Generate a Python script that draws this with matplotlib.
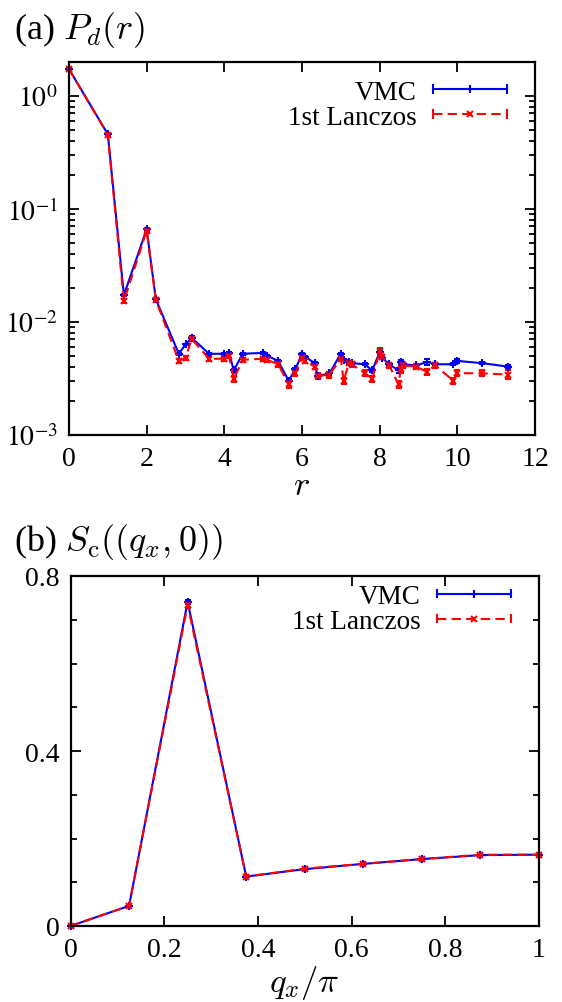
import numpy as np
import matplotlib
matplotlib.use("Agg")
import matplotlib.pyplot as plt
from matplotlib.lines import Line2D
from matplotlib.legend_handler import HandlerBase
from matplotlib.ticker import LogLocator, FuncFormatter, MultipleLocator, NullFormatter

# ---------------- data ----------------
# (a) P_d(r)
r_vals = [0, 1, 1.414, 2, 2.236, 2.828, 3, 3.162, 3.606, 4, 4.123, 4.243, 4.472, 5,
          5.099, 5.385, 5.657, 5.831, 6, 6.083, 6.325, 6.403, 6.708, 7, 7.071, 7.211,
          7.280, 7.616, 7.810, 8, 8.062, 8.246, 8.485, 8.544, 8.602, 8.944, 9.220,
          9.434, 9.899, 10, 10.630, 11.314]
pd_vmc = [1.72, 0.456, 0.0172, 0.066, 0.0158, 0.0052, 0.0063, 0.0072, 0.0052, 0.0052,
          0.0053, 0.0037, 0.0052, 0.0053, 0.0050, 0.0045, 0.0030, 0.0038, 0.0052, 0.0049,
          0.0043, 0.0033, 0.0035, 0.0052, 0.0046, 0.0044, 0.0043, 0.0042, 0.0037, 0.0054,
          0.0048, 0.0042, 0.0037, 0.0044, 0.0042, 0.0041, 0.0044, 0.0042, 0.0042, 0.0045,
          0.0043, 0.0040]
pd_vmc_err = [0.02, 0.005, 0.0004, 0.001, 0.0003, 0.0001, 0.0001, 0.0002, 0.0001, 0.0001,
              0.0001, 0.0001, 0.0001, 0.0001, 0.0001, 0.0001, 0.0001, 0.0001, 0.0001, 0.0001,
              0.0001, 0.0001, 0.0001, 0.0001, 0.0001, 0.0001, 0.0001, 0.0001, 0.0001, 0.0001,
              0.0001, 0.0001, 0.0002, 0.0002, 0.0001, 0.0001, 0.0003, 0.0001, 0.0001, 0.0002,
              0.0001, 0.0001]
pd_lan = [1.72, 0.452, 0.0152, 0.064, 0.0156, 0.0045, 0.0048, 0.0070, 0.0047, 0.0047,
          0.0050, 0.0031, 0.0046, 0.0047, 0.0046, 0.0042, 0.0028, 0.0035, 0.0048, 0.0045,
          0.0040, 0.0033, 0.0034, 0.0047, 0.0030, 0.0043, 0.0042, 0.0035, 0.0031, 0.0055,
          0.0049, 0.0041, 0.0028, 0.0038, 0.0041, 0.0040, 0.0036, 0.0041, 0.0030, 0.0035,
          0.0035, 0.0034]
pd_lan_err = [0.03, 0.008, 0.0006, 0.0015, 0.0005, 0.0002, 0.0002, 0.0003, 0.0002, 0.0002,
              0.0002, 0.0002, 0.0002, 0.0002, 0.0002, 0.0002, 0.0002, 0.0002, 0.0002, 0.0002,
              0.0002, 0.0002, 0.0002, 0.0002, 0.0002, 0.0002, 0.0002, 0.0002, 0.0002, 0.0003,
              0.0002, 0.0002, 0.0002, 0.0003, 0.0002, 0.0002, 0.0002, 0.0002, 0.0002, 0.0002,
              0.0002, 0.0003]

# (b) S_c((q_x,0))
qx = [0, 0.125, 0.25, 0.375, 0.5, 0.625, 0.75, 0.875, 1.0]
sc_vmc = [0.0, 0.046, 0.741, 0.113, 0.130, 0.142, 0.153, 0.162, 0.163]
sc_vmc_err = [0.001, 0.001, 0.004, 0.001, 0.001, 0.001, 0.001, 0.001, 0.001]
sc_lan = [0.0, 0.046, 0.734, 0.113, 0.131, 0.142, 0.153, 0.163, 0.163]
sc_lan_err = [0.002, 0.002, 0.006, 0.002, 0.002, 0.002, 0.002, 0.002, 0.002]

labels = ["VMC", "1st Lanczos"]

# ---------------- style ----------------
plt.rcParams["font.family"] = ["Liberation Serif", "DejaVu Serif"]
plt.rcParams["mathtext.fontset"] = "stix"
BLUE = "#0000ff"
RED = "#ff0000"
TICKFS = 20
LEGFS = 19.5
LABFS = 25
TITFS = 26


class GnuHandler(HandlerBase):
    """gnuplot-like legend sample: line with end caps and central marker."""
    def create_artists(self, legend, orig, xdescent, ydescent, width, height, fontsize, trans):
        y = height / 2.0 - ydescent
        x0, x1 = -xdescent, width - xdescent
        c = height * 0.2
        arts = []
        ln = Line2D([x0, x1], [y, y], color=orig.get_color(), lw=orig.get_linewidth(),
                    linestyle=orig.get_linestyle())
        if orig.get_linestyle() not in ("-", "solid"):
            ln.set_dashes((4.5, 2.5))
        arts.append(ln)
        for xx in (x0, x1):
            arts.append(Line2D([xx, xx], [y - c, y + c], color=orig.get_color(), lw=1.5))
        arts.append(Line2D([(x0 + x1) / 2], [y], color=orig.get_color(), marker=orig.get_marker(),
                           markersize=orig.get_markersize(), markeredgewidth=1.5, linestyle="none"))
        for a in arts:
            a.set_transform(trans)
        return arts


def draw_series(ax, x, y, e, color, marker, ms, dashed):
    cont = ax.errorbar(x, y, yerr=e, color=color, lw=1.5, marker=marker, ms=ms, mew=1.5,
                       capsize=2.5, capthick=1.3, elinewidth=1.3,
                       linestyle="--" if dashed else "-")
    line = cont.lines[0]
    if dashed:
        line.set_dashes((4.5, 2.5))
    for a in [cont.lines[0]] + list(cont.lines[1]) + list(cont.lines[2]):
        a.set_clip_on(False)
    return cont


def style_axes(ax):
    for s in ax.spines.values():
        s.set_linewidth(1.6)
    ax.tick_params(which="both", direction="in", top=True, right=True, width=1.3,
                   labelsize=TICKFS, pad=8)
    ax.tick_params(which="major", length=7)
    ax.tick_params(which="minor", length=4)


def add_legend(ax, dy_px):
    h1 = Line2D([], [], color=BLUE, lw=1.5, linestyle="-", marker="+", markersize=6)
    h2 = Line2D([], [], color=RED, lw=1.5, linestyle="--", marker="x", markersize=5)
    hpx = ax.get_position().height * 1003
    wpx = ax.get_position().width * 562
    ax.legend([h1, h2], labels, loc="upper right", frameon=False, markerfirst=False,
              fontsize=LEGFS, handlelength=2.75, handletextpad=0.6, labelspacing=0.0,
              borderpad=0.0, borderaxespad=0.0,
              bbox_to_anchor=(1 - 28 / wpx, 1 - dy_px / hpx),
              handler_map={h1: GnuHandler(), h2: GnuHandler()})


fig = plt.figure(figsize=(5.62, 10.03), dpi=100)

# ---------- panel (a) ----------
ax1 = fig.add_axes([69 / 562, 1 - 435.7 / 1003, (535 - 69) / 562, (435.7 - 62.7) / 1003])
draw_series(ax1, r_vals, pd_vmc, pd_vmc_err, BLUE, "+", 6, False)
draw_series(ax1, r_vals, pd_lan, pd_lan_err, RED, "x", 5, True)
ax1.set_yscale("log")
ax1.set_xlim(0, 12)
ax1.set_ylim(1e-3, 2.0)
ax1.xaxis.set_major_locator(MultipleLocator(2))
ax1.yaxis.set_major_locator(LogLocator(base=10, numticks=10))
ax1.yaxis.set_minor_locator(LogLocator(base=10, subs=np.arange(2, 10), numticks=20))
ax1.yaxis.set_minor_formatter(NullFormatter())
ax1.yaxis.set_major_formatter(FuncFormatter(lambda v, p: r"$10^{%d}$" % int(round(np.log10(v)))))
ax1.xaxis.set_major_formatter(FuncFormatter(lambda v, p: "%g" % v))
style_axes(ax1)
ax1.set_xlabel(r"$r$", fontsize=LABFS, math_fontfamily="cm", labelpad=-1)
fig.text(14 / 562, 1 - 30 / 1003, r"(a) $P_d(r)$", fontsize=TITFS, va="center", ha="left",
         math_fontfamily="cm")
add_legend(ax1, 18)

# ---------- panel (b) ----------
ax2 = fig.add_axes([70.5 / 562, 1 - 927 / 1003, (539 - 70.5) / 562, 350 / 1003])
draw_series(ax2, qx, sc_vmc, sc_vmc_err, BLUE, "+", 6, False)
draw_series(ax2, qx, sc_lan, sc_lan_err, RED, "x", 5, True)
ax2.set_xlim(0, 1)
ax2.set_ylim(0, 0.8)
ax2.xaxis.set_major_locator(MultipleLocator(0.2))
ax2.yaxis.set_major_locator(MultipleLocator(0.4))
ax2.yaxis.set_minor_locator(MultipleLocator(0.1))
fmt = FuncFormatter(lambda v, p: "%g" % round(v, 3))
ax2.xaxis.set_major_formatter(fmt)
ax2.yaxis.set_major_formatter(fmt)
style_axes(ax2)
ax2.set_xlabel(r"$q_x/\pi$", fontsize=LABFS, math_fontfamily="cm", labelpad=1)
fig.text(14 / 562, 1 - 542 / 1003, r"(b) $S_{\rm c}((q_x,0))$", fontsize=TITFS, va="center",
         ha="left", math_fontfamily="cm")
add_legend(ax2, 8)

fig.savefig("out.png", dpi=100)
